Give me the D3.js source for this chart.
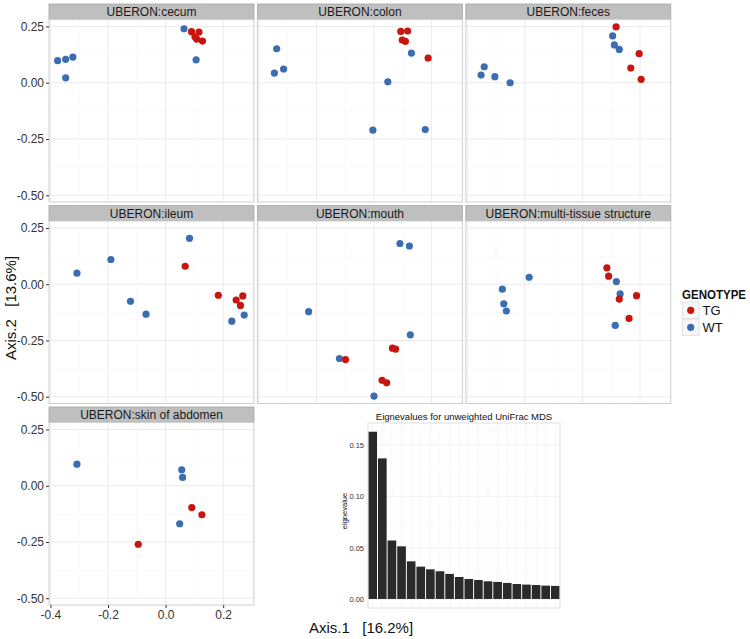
<!DOCTYPE html>
<html>
<head>
<meta charset="utf-8">
<script src="https://cdn.jsdelivr.net/npm/d3@7"></script>
<style>
  body { margin: 0; background: #fff; }
  svg { font-family: "Liberation Sans", Arial, sans-serif; }
</style>
</head>
<body>
<div id="chart"></div>
<script>
// points per facet: [Axis.1, Axis.2, genotype]
const cecum = [
  [-0.375, 0.098, 'WT'], [-0.347, 0.104, 'WT'], [-0.322, 0.114, 'WT'], [-0.347, 0.022, 'WT'],
  [0.064, 0.240, 'WT'], [0.106, 0.102, 'WT'],
  [0.090, 0.227, 'TG'], [0.116, 0.225, 'TG'], [0.102, 0.204, 'TG'], [0.108, 0.194, 'TG'], [0.128, 0.185, 'TG']
];
const colon = [
  [-0.338, 0.151, 'WT'], [-0.346, 0.043, 'WT'], [-0.314, 0.061, 'WT'], [0.130, 0.132, 'WT'],
  [0.048, 0.004, 'WT'], [-0.004, -0.211, 'WT'], [0.178, -0.208, 'WT'],
  [0.093, 0.228, 'TG'], [0.117, 0.230, 'TG'], [0.098, 0.190, 'TG'], [0.109, 0.184, 'TG'], [0.188, 0.110, 'TG']
];
const feces = [
  [-0.341, 0.071, 'WT'], [-0.352, 0.034, 'WT'], [-0.304, 0.027, 'WT'], [-0.251, 0.000, 'WT'],
  [0.105, 0.208, 'WT'], [0.111, 0.168, 'WT'], [0.128, 0.148, 'WT'],
  [0.117, 0.248, 'TG'], [0.197, 0.129, 'TG'], [0.168, 0.065, 'TG'], [0.204, 0.015, 'TG']
];
const ileum = [
  [-0.308, 0.049, 'WT'], [-0.190, 0.110, 'WT'], [-0.122, -0.076, 'WT'], [-0.068, -0.133, 'WT'],
  [0.083, 0.204, 'WT'], [0.230, -0.164, 'WT'], [0.273, -0.137, 'WT'],
  [0.068, 0.080, 'TG'], [0.183, -0.049, 'TG'], [0.245, -0.070, 'TG'], [0.268, -0.052, 'TG'], [0.260, -0.094, 'TG']
];
const mouth = [
  [0.090, 0.181, 'WT'], [0.123, 0.170, 'WT'], [-0.227, -0.122, 'WT'], [0.126, -0.225, 'WT'],
  [-0.120, -0.330, 'WT'], [0.000, -0.497, 'WT'],
  [-0.099, -0.335, 'TG'], [0.064, -0.284, 'TG'], [0.075, -0.288, 'TG'], [0.028, -0.427, 'TG'], [0.044, -0.438, 'TG']
];
const multiTissue = [
  [-0.185, 0.031, 'WT'], [-0.278, -0.022, 'WT'], [-0.273, -0.087, 'WT'], [-0.264, -0.119, 'WT'],
  [0.118, 0.012, 'WT'], [0.131, -0.043, 'WT'], [0.114, -0.183, 'WT'],
  [0.085, 0.073, 'TG'], [0.091, 0.036, 'TG'], [0.128, -0.066, 'TG'], [0.188, -0.051, 'TG'], [0.162, -0.152, 'TG']
];
const skin = [
  [-0.308, 0.096, 'WT'], [0.056, 0.071, 'WT'], [0.059, 0.037, 'WT'], [0.049, -0.169, 'WT'],
  [0.091, -0.097, 'TG'], [0.126, -0.129, 'TG'], [-0.095, -0.260, 'TG']
];

const facetNames = ['UBERON:cecum', 'UBERON:colon', 'UBERON:feces', 'UBERON:ileum',
  'UBERON:mouth', 'UBERON:multi-tissue structure', 'UBERON:skin of abdomen'];
const facetData = [cecum, colon, feces, ileum, mouth, multiTissue, skin];

const xTicks = [-0.4, -0.2, 0.0, 0.2];
const yTicks = [0.25, 0.00, -0.25, -0.50];
const genotypes = ['TG', 'WT'];

// eigenvalues for the inset
const eigenvalues = [0.163, 0.137, 0.057, 0.0513, 0.0367, 0.0315, 0.0289, 0.027, 0.0244, 0.0214,
  0.0195, 0.0185, 0.0172, 0.0166, 0.0156, 0.0146, 0.014, 0.0136, 0.013, 0.0127];
const eigTicks = [0, 0.05, 0.10, 0.15];

const width = 750, height = 639;
const left0 = 49, top0 = 4;
const panelW = 205, stripH = 15.5, plotH = 182.5, gapX = 3.4, gapY = 3.5;

const color = d3.scaleOrdinal().domain(genotypes).range(['#c8160f', '#3b6db3']);

const x = d3.scaleLinear().domain([-0.405, 0.307]).range([0, panelW]);
const y = d3.scaleLinear().domain([-0.53, 0.281]).range([plotH, 0]);

const svg = d3.select('#chart').append('svg')
  .attr('width', width).attr('height', height);

facetNames.forEach((name, i) => {
  const col = i % 3, row = Math.floor(i / 3);
  const px = left0 + col * (panelW + gapX);
  const py = top0 + row * (stripH + plotH + gapY);
  const g = svg.append('g').attr('transform', `translate(${px},${py})`);

  // strip
  g.append('rect').attr('width', panelW).attr('height', stripH)
    .attr('fill', '#bfbfbf').attr('stroke', '#a6a6a6').attr('stroke-width', 0.8);
  g.append('text').attr('x', panelW / 2).attr('y', stripH / 2 + 4.3)
    .attr('text-anchor', 'middle').attr('font-size', 12).attr('fill', '#1a1a1a').text(name);

  const p = g.append('g').attr('transform', `translate(0,${stripH})`);
  p.append('rect').attr('width', panelW).attr('height', plotH).attr('fill', '#fff');

  // grid
  const xMinor = [-0.3, -0.1, 0.1, 0.3];
  const yMinor = [0.125, -0.125, -0.375];
  p.selectAll('.gxm').data(xMinor).enter().append('line')
    .attr('x1', d => x(d)).attr('x2', d => x(d)).attr('y1', 0).attr('y2', plotH)
    .attr('stroke', '#f5f5f5').attr('stroke-width', 0.6);
  p.selectAll('.gym').data(yMinor).enter().append('line')
    .attr('y1', d => y(d)).attr('y2', d => y(d)).attr('x1', 0).attr('x2', panelW)
    .attr('stroke', '#f5f5f5').attr('stroke-width', 0.6);
  p.selectAll('.gx').data(xTicks).enter().append('line')
    .attr('x1', d => x(d)).attr('x2', d => x(d)).attr('y1', 0).attr('y2', plotH)
    .attr('stroke', '#ebebeb').attr('stroke-width', 1);
  p.selectAll('.gy').data(yTicks).enter().append('line')
    .attr('y1', d => y(d)).attr('y2', d => y(d)).attr('x1', 0).attr('x2', panelW)
    .attr('stroke', '#ebebeb').attr('stroke-width', 1);

  // points
  p.selectAll('circle').data(facetData[i]).enter().append('circle')
    .attr('cx', d => x(d[0])).attr('cy', d => y(d[1])).attr('r', 3.6)
    .attr('fill', d => color(d[2]));

  p.append('rect').attr('width', panelW).attr('height', plotH)
    .attr('fill', 'none').attr('stroke', '#cfcfcf').attr('stroke-width', 1);

  // y axis on first column
  if (col === 0) {
    const ya = p.append('g').call(d3.axisLeft(y).tickValues(yTicks).tickFormat(d3.format('.2f')).tickSize(3).tickPadding(2));
    ya.select('.domain').remove();
    ya.selectAll('line').attr('stroke', '#333');
    ya.selectAll('text').attr('font-size', 12).attr('fill', '#333').attr('font-family', null)
      .text(d => d3.format('.2f')(d).replace('−', '-'));
  }
  // x axis under skin of abdomen
  if (i === 6) {
    const xa = p.append('g').attr('transform', `translate(0,${plotH})`)
      .call(d3.axisBottom(x).tickValues(xTicks).tickSize(3).tickPadding(2));
    xa.select('.domain').remove();
    xa.selectAll('line').attr('stroke', '#333');
    xa.selectAll('text').attr('font-size', 12).attr('fill', '#333').attr('font-family', null)
      .text(d => d3.format('.1f')(d).replace('−', '-'));
  }
});

// axis titles
svg.append('text').attr('x', 361).attr('y', 633).attr('text-anchor', 'middle')
  .attr('font-size', 15).attr('fill', '#111').attr('xml:space', 'preserve').text('Axis.1   [16.2%]');
svg.append('text').attr('transform', 'translate(16,308) rotate(-90)').attr('text-anchor', 'middle')
  .attr('font-size', 15).attr('fill', '#111').attr('xml:space', 'preserve').text('Axis.2   [13.6%]');

// legend
const lg = svg.append('g').attr('transform', 'translate(682,0)');
lg.append('text').attr('x', 0).attr('y', 299).attr('font-size', 12.5).attr('font-weight', 'bold')
  .attr('textLength', 64).attr('lengthAdjust', 'spacingAndGlyphs')
  .attr('fill', '#111').text('GENOTYPE');
genotypes.forEach((gt, k) => {
  const ky = 302 + k * 17;
  lg.append('rect').attr('x', 0.5).attr('y', ky).attr('width', 16.5).attr('height', 16.5)
    .attr('fill', '#f7f7f7').attr('stroke', '#dcdcdc').attr('stroke-width', 0.8);
  lg.append('circle').attr('cx', 8.7).attr('cy', ky + 8.3).attr('r', 3.6).attr('fill', color(gt));
  lg.append('text').attr('x', 20.5).attr('y', ky + 13).attr('font-size', 13).attr('fill', '#111').text(gt);
});

// inset: eigenvalues bar chart
const ix0 = 368, ix1 = 560, iy0 = 423, iy1 = 608;
const bx = d3.scaleBand().domain(d3.range(eigenvalues.length)).range([ix0, ix1]).paddingInner(0.1).paddingOuter(0.04);
const by = d3.scaleLinear().domain([-0.0088, 0.1715]).range([iy1, iy0]);
const inset = svg.append('g');
inset.append('rect').attr('x', ix0).attr('y', iy0).attr('width', ix1 - ix0).attr('height', iy1 - iy0)
  .attr('fill', '#fff');
inset.selectAll('.vg').data(d3.range(eigenvalues.length)).enter().append('line')
  .attr('x1', d => bx(d) + bx.bandwidth() / 2).attr('x2', d => bx(d) + bx.bandwidth() / 2)
  .attr('y1', iy0).attr('y2', iy1).attr('stroke', '#f0f0f0').attr('stroke-width', 0.6);
inset.selectAll('.hg').data(eigTicks.concat([0.025, 0.075, 0.125])).enter().append('line')
  .attr('x1', ix0).attr('x2', ix1).attr('y1', d => by(d)).attr('y2', d => by(d))
  .attr('stroke', d => eigTicks.includes(d) ? '#ebebeb' : '#f5f5f5').attr('stroke-width', 0.7);
inset.selectAll('.bar').data(eigenvalues).enter().append('rect')
  .attr('x', (d, k) => bx(k)).attr('width', bx.bandwidth())
  .attr('y', d => by(d)).attr('height', d => by(0) - by(d)).attr('fill', '#2a2a2a');
inset.append('rect').attr('x', ix0).attr('y', iy0).attr('width', ix1 - ix0).attr('height', iy1 - iy0)
  .attr('fill', 'none').attr('stroke', '#d6d6d6').attr('stroke-width', 0.8);
const ia = inset.append('g').attr('transform', `translate(${ix0},0)`)
  .call(d3.axisLeft(by).tickValues(eigTicks).tickFormat(d3.format('.2f')).tickSize(0).tickPadding(4));
ia.select('.domain').remove();
ia.selectAll('text').attr('font-size', 7.5).attr('fill', '#333').attr('font-family', null);
inset.append('text').attr('x', 464).attr('y', 420).attr('text-anchor', 'middle')
  .attr('font-size', 9.5).attr('fill', '#111').text('Eignevalues for unweighted UniFrac MDS');
inset.append('text').attr('transform', 'translate(347,511) rotate(-90)').attr('text-anchor', 'middle')
  .attr('font-size', 7.5).attr('fill', '#111').text('eignevalue');
</script>
</body>
</html>
